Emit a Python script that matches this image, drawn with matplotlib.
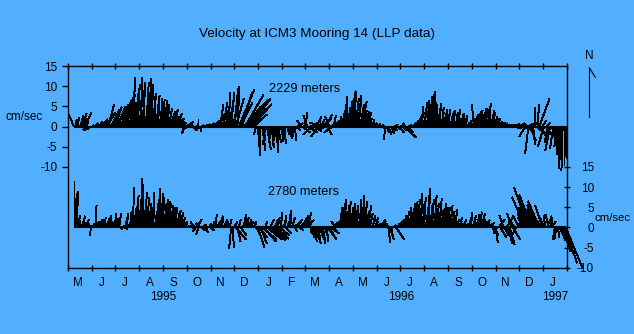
import numpy as np
import matplotlib
matplotlib.use("Agg")
import matplotlib.pyplot as plt
from matplotlib.collections import LineCollection
from matplotlib.lines import Line2D

plt.rcParams['font.family'] = ['Liberation Sans', 'DejaVu Sans']

# ---- record layout -------------------------------------------------------
record_start = np.datetime64('1995-05-01')
record_end = np.datetime64('1997-02-01')
sample_days = np.arange(8, 641, 2)          # days since 1 May 1995

month_letters = ['M', 'J', 'J', 'A', 'S', 'O', 'N', 'D', 'J', 'F', 'M',
                 'A', 'M', 'J', 'J', 'A', 'S', 'O', 'N', 'D', 'J']
year_labels = ['1995', '1996', '1997']
speed_ticks = [15, 10, 5, 0, -5, -10]
depth_labels = ['2229 meters', '2780 meters']

# ---- 2229 m current components (cm/s) ------------------------------------
north_2229 = [
    3.0, 1.8, 2.2, 1.5, 2.6, 3.2, 2.0, 3.4, 1.2, -0.8,
    -1.0, -0.6, 0.4, 0.3, 0.8, 0.5, 1.2, 1.0, 1.8, 1.5,
    2.5, 3.5, 5.5, 3.0, 4.2, 2.8, 4.8, 3.6, 5.0, 4.0,
    5.5, 4.8, 6.5, 5.8, 7.2, 6.0, 8.0, 7.0, 12.2, 8.5,
    9.5, 10.5, 8.8, 12.2, 9.0, 10.8, 8.5, 11.0, 9.2, 11.8,
    10.5, 7.5, 8.2, 6.5, 7.8, 6.2, 7.0, 6.8, 5.8, 6.5,
    5.5, 4.5, 3.8, 4.2, 3.0, 2.5, 3.2, 1.8, 2.0, 1.2,
    1.0, -1.7, 0.6, -0.8, 1.2, 0.4, -1.0, 0.8, -0.5, 0.6,
    1.8, -1.2, 0.3, 0.2, 0.4, 0.3, 0.6, 0.5, 0.8, 0.6,
    1.0, 1.5, 2.2, 3.0, 5.5, 4.0, 6.0, 3.5, 5.0, 8.3,
    6.5, 8.5, 5.5, 9.5, 7.0, 9.8, 9.2, 6.0, 8.5, 6.7,
    7.8, 5.0, 6.8, 4.5, 5.5, 3.0, 2.5, -2.0, -4.5, -7.3,
    -5.0, -6.0, -3.5, -4.5, -5.8, -3.0, -4.0, -5.2, -2.8, -4.8,
    -6.5, -4.0, -5.5, -3.2, -4.2, -2.5, -3.8, -2.0, -3.0, -1.5,
    -2.5, -1.8, -3.5, -1.0, 0.8, -0.8, 1.5, -1.5, 2.0, 3.5,
    2.8, -1.5, 1.2, -2.0, 0.6, -1.2, 2.5, -2.5, 1.0, 1.8,
    2.0, -1.0, 3.0, -2.0, 2.5, 1.5, -1.5, 2.8, 1.0, 0.8,
    1.2, 2.5, 3.5, 4.0, 5.5, 7.5, 4.8, 6.5, 5.0, 8.5,
    8.8, 7.0, 6.0, 7.8, 5.5, 6.2, 4.0, 3.8, 3.0, 3.5,
    2.0, 1.2, 1.8, 0.8, 0.5, 0.3, 0.6, 0.2, 0.4, -0.5,
    -3.2, -1.5, -2.0, -0.8, -1.8, -1.0, 0.5, -1.2, -0.6, -1.5,
    0.5, -1.0, -2.7, 0.8, -1.5, 0.4, -0.8, 0.6, 0.3, 1.0,
    1.5, 2.5, 3.5, 5.0, 3.0, 6.0, 4.2, 6.5, 5.0, 7.5,
    8.0, 8.7, 6.0, 5.5, 4.5, 5.8, 3.5, 4.8, 3.2, 4.3,
    3.0, 4.2, 2.5, 3.8, 4.0, 2.2, 3.5, 4.2, 2.0, 3.0,
    3.2, 2.0, 2.8, 1.0, 1.5, 0.8, 2.0, 5.5, 3.0, 3.8,
    4.0, 3.0, 4.5, 3.5, 4.2, 3.2, 5.0, 5.8, 4.0, 3.5,
    2.5, 2.0, 1.5, 1.2, 0.8, 1.0, 0.6, 0.8, 0.5, 0.4,
    0.5, 0.3, -0.4, 0.6, 0.4, -0.5, 0.8, -0.3, 0.5, -0.8,
    -2.5, 0.8, -6.7, -3.5, 1.0, -4.5, 4.8, -2.0, 5.5, 6.8,
    -3.0, 1.5, -5.0, -2.5, 1.0, -4.0, -6.0, -3.0, -5.5, -2.0,
    -5.0, -7.0, -9.5, -10.5, -11.0, -9.5, -8.0,
]
east_2229 = [
    -1.3, 0.3, 0.5, -0.2, 0.8, 1.2, 0.6, 1.6, 0.4, -1.2,
    -1.5, -0.8, 0.3, 0.5, 0.6, 0.4, 0.9, 1.2, 1.4, 1.6,
    1.8, 2.2, 1.5, 2.5, 2.0, 2.8, 1.8, 2.4, 2.0, 2.6,
    2.0, 2.5, 1.8, 2.2, 1.5, 2.0, 1.2, 1.8, 0.5, 1.0,
    0.8, 0.5, 1.0, 0.3, 0.6, 0.2, 0.8, 0.4, 0.5, 0.3,
    0.3, 0.5, 0.2, 0.6, 0.4, 0.8, 0.3, 0.5, 0.7, 0.4,
    0.5, 0.8, 1.2, 1.5, 0.9, 1.0, 1.3, 0.8, 1.0, 0.6,
    0.8, -0.6, 1.0, -1.2, 1.0, -0.5, 1.2, -0.8, 0.6, 0.4,
    0.0, 0.3, 0.5, 0.3, 0.8, 0.6, 0.5, 1.0, 0.7, 1.2,
    0.8, 1.0, 1.2, 1.5, 0.8, 1.6, 1.0, 1.2, 0.8, 0.6,
    1.0, 0.8, 1.5, 1.0, 2.0, 0.5, 3.8, 3.0, 2.5, 6.2,
    4.5, 3.5, 5.5, 4.0, 5.0, 3.5, 2.5, -0.5, 0.5, 0.3,
    -0.5, 0.8, 0.3, -0.6, 1.0, 0.5, -0.3, 0.6, 0.9, -0.4,
    0.5, 0.8, -0.4, 0.6, 1.0, 0.3, -0.6, 0.5, 0.8, 0.4,
    0.4, -0.5, 0.3, 1.0, 1.2, -1.5, -1.0, 1.8, 0.5, 0.3,
    -1.0, 2.0, 2.5, -2.2, 2.0, 1.5, 1.2, -1.8, -2.5, 0.8,
    2.0, -1.5, 1.5, 1.0, -1.0, 2.5, -2.0, 0.5, 1.0, 0.5,
    0.5, 0.3, 0.8, 0.5, 0.4, 0.3, 0.6, 0.8, 0.5, 0.6,
    0.5, 0.8, 1.0, 0.6, 0.9, 1.2, 0.8, 1.0, 0.6, 0.8,
    0.5, 0.8, 0.3, 0.6, 0.4, 0.5, 0.3, 0.6, 0.4, 0.3,
    -0.3, 0.5, 0.8, -0.5, 0.6, 1.0, 0.8, -0.6, 0.5, 1.2,
    0.8, 1.0, 3.0, -0.6, 1.5, 0.8, -0.8, 1.0, 0.5, 0.3,
    0.5, 0.8, 1.2, 0.6, 1.0, 0.8, 1.2, 0.5, 0.8, 0.4,
    0.5, 0.4, 0.3, 0.2, 0.5, 0.3, 0.6, 0.2, 0.4, 0.3,
    0.3, 0.2, 0.5, 0.4, 0.3, 0.6, 0.2, 0.4, 0.3, 0.5,
    0.3, 0.5, 0.2, 0.4, 0.6, 0.3, 0.8, -0.5, 0.6, 1.0,
    1.0, 0.8, 1.2, 0.6, 0.8, 1.0, 0.5, 0.3, 0.8, 0.6,
    0.8, 1.0, 0.6, 0.8, 1.2, 0.5, 0.8, 0.6, 1.0, 0.8,
    1.5, 2.0, 1.8, 1.2, 2.5, 1.0, 1.5, 2.2, 1.0, 1.8,
    -1.5, 2.0, -0.8, 1.5, 1.5, 0.5, 0.2, 2.5, 0.3, 2.5,
    1.5, 1.0, -1.5, 2.0, 0.8, -1.0, -1.2, 1.5, -0.8, -0.5,
    -0.5, -0.3, -0.2, -0.5, -0.3, 0.0, 0.2,
]

# ---- 2780 m current components (cm/s) ------------------------------------
north_2780 = [
    11.4, 8.5, 9.0, 3.0, 2.0, 1.5, 2.8, 1.2, 2.0, 1.0,
    0.5, -2.0, 1.0, 1.2, 5.5, 1.5, 2.0, 0.8, 1.8, 2.5,
    1.0, 2.5, 1.5, 3.0, 1.2, 2.2, 3.3, 2.0, 1.0, 3.5,
    -0.5, 0.4, -0.4, 2.5, 3.5, 2.0, 4.0, 3.0, 10.0, 5.0,
    6.5, 8.0, 7.0, 12.0, 10.6, 6.5, 8.7, 7.5, 4.0, 6.0,
    5.0, 8.7, 3.5, 6.0, 7.0, 9.6, 8.5, 7.5, 6.0, 7.0,
    6.5, 6.0, 5.5, 5.0, 4.5, 5.0, 3.8, 4.2, 3.0, 3.7,
    2.5, 1.3, 1.5, 0.5, 0.3, 0.4, -0.5, 1.5, -1.0, 2.0,
    -1.7, 1.0, -0.8, 0.6, -1.2, 0.5, -0.6, 1.0, -0.8, 1.5,
    2.0, 3.3, 1.5, 2.5, 0.8, 2.8, 1.2, 2.0, 1.5, 0.5,
    2.0, -5.3, -5.0, 1.5, -3.0, -3.5, 2.0, -2.0, 1.0, 2.5,
    3.3, 2.5, 1.8, 1.2, 1.5, 0.8, 1.5, -1.5, -5.0, -2.5,
    -4.0, -3.0, -3.5, 1.5, -3.0, -2.8, 2.0, -3.2, -2.5, 1.8,
    -2.8, 2.5, -2.0, 3.7, 1.5, 2.8, -1.5, 2.0, 3.5, 4.2,
    2.5, 1.5, -1.0, 2.0, 1.2, -0.8, 2.8, 1.5, 3.0, 1.8,
    3.7, 1.0, -1.5, -2.5, -3.5, -2.0, -3.0, -4.0, -2.5, -3.2,
    -4.0, -2.5, -3.5, -2.0, -3.0, -1.5, 2.0, -1.0, 1.5, 2.5,
    1.5, 3.5, 5.0, 6.0, 7.0, 4.0, 5.5, 6.3, 4.5, 5.0,
    6.0, 4.5, 5.5, 4.8, 7.0, 5.0, 8.0, 6.5, 4.0, 5.5,
    3.5, 2.0, 3.0, 1.5, 2.5, 1.0, 0.8, 2.0, 1.2, 1.5,
    1.0, 0.5, -3.7, -3.0, -2.0, 0.5, 0.3, -3.0, 1.0, 1.5,
    2.0, 1.5, 3.0, 2.5, 4.0, 3.5, 5.0, 4.0, 5.8, 5.5,
    6.5, 7.0, 5.5, 8.3, 6.0, 7.5, 5.0, 8.0, 9.6, 6.0,
    7.0, 5.5, 8.0, 6.0, 5.0, 7.2, 4.5, 5.5, 6.0, 4.8,
    5.0, 4.2, 5.5, 4.0, 3.5, 4.5, 2.0, 1.5, 2.5, 1.0,
    1.5, 2.0, 1.0, 1.8, 2.5, 3.7, 2.0, 3.0, 2.5, 3.2,
    2.5, 3.8, 3.5, 2.0, 1.5, 1.0, 1.8, 0.8, 1.2, -1.0,
    -2.0, -3.7, -1.5, 2.0, -2.5, -1.0, 3.0, -2.0, 2.5, -4.0,
    -4.2, 3.5, -3.0, 2.5, -2.0, 2.0, 3.0, 1.5, 2.5, 3.5,
    7.5, 5.0, 9.8, 6.0, 8.0, 4.5, 7.0, 5.5, 3.5, 6.5,
    4.0, 5.5, 2.5, 3.0, 2.0, 3.2, 2.5, 1.5, 2.8, -3.0,
    -3.0, -2.5, -1.5, -3.2, -6.0, -8.8, -10.2,
]
east_2780 = [
    0.0, 0.3, 0.2, 0.3, -0.2, 0.5, 0.4, 0.2, 0.6, 0.3,
    0.3, -0.3, 0.5, 0.8, 0.2, 0.6, 1.0, 0.5, 0.8, 0.6,
    0.5, 0.8, 1.0, 0.4, 0.6, 1.2, 0.5, 0.8, 0.3, 0.5,
    0.5, 0.8, 1.0, 0.5, 0.3, 0.8, 0.4, 0.6, 0.2, 0.5,
    0.4, 0.2, 0.5, 0.3, 0.2, 0.6, 0.3, 0.5, 0.4, 0.3,
    0.3, 0.2, 0.5, 0.4, 0.3, 0.2, 0.5, 0.4, 0.6, 0.5,
    0.6, 0.5, 0.7, 0.8, 0.6, 0.5, 0.8, 0.6, 0.5, 0.4,
    0.5, 0.6, 0.3, 0.5, 0.4, 0.8, 0.8, -0.8, -0.6, 1.2,
    -0.5, -1.0, 1.0, 0.8, 0.8, -0.6, -1.0, 0.5, 0.8, 0.5,
    0.5, 0.3, 0.8, 1.0, 0.5, 0.4, 0.8, 0.6, 0.5, 0.3,
    0.5, -0.5, 0.3, 0.8, 2.5, 0.8, 0.5, 1.5, 0.8, 0.5,
    0.3, 0.5, 0.8, 0.6, 0.4, 0.8, 0.3, 1.0, 1.7, 2.0,
    1.5, 3.5, 3.0, 0.5, 3.7, 4.0, 1.0, 3.5, 3.0, 0.8,
    3.0, 0.5, 2.5, 0.3, 1.0, 0.6, 1.5, 0.8, 0.5, 0.3,
    0.8, 2.0, 0.5, 1.5, 2.5, 1.0, 1.8, 2.2, 1.5, 2.0,
    1.0, 0.5, 0.3, 0.5, 0.8, 0.3, 0.5, 0.6, 0.8, 1.0,
    0.5, 1.0, 0.6, 1.5, 1.8, 2.0, 2.5, 0.8, -1.0, 1.5,
    0.5, 0.3, 0.2, 0.4, 0.3, 0.2, 0.4, 0.3, 0.5, 0.2,
    0.3, 0.5, 0.2, 0.6, 0.3, 0.4, 0.2, 0.5, 0.6, 0.8,
    0.8, 1.2, 0.6, 1.0, 0.5, 0.8, 0.6, 1.2, 0.8, 0.5,
    0.5, 0.3, 0.5, 1.0, 0.3, 0.8, 0.6, 2.0, 0.5, 0.8,
    0.8, 0.5, 0.6, 0.3, 0.5, 0.8, 0.3, 0.5, 0.4, 0.2,
    0.3, 0.5, 0.6, 0.3, 0.5, 0.4, 0.8, 0.5, 0.3, 0.6,
    0.5, 0.8, 0.4, 0.6, 0.8, 0.5, 0.6, 0.8, 0.5, 0.6,
    0.6, 0.8, 0.5, 0.6, 0.8, 0.5, 0.6, 0.8, 0.5, 0.4,
    0.6, 0.3, 0.5, 0.8, 0.6, 0.4, 0.8, 0.5, 1.0, 0.6,
    0.6, 0.4, 0.8, 0.5, 0.6, 0.8, 0.4, 0.6, 0.8, 0.5,
    1.0, 0.5, -0.8, 1.5, 1.5, 2.0, -1.0, 0.8, 1.5, 1.0,
    1.2, -1.0, 1.8, -1.5, -1.0, 1.0, -1.5, 0.5, -1.0, -1.5,
    -3.3, -2.0, -3.5, -2.5, -3.0, -1.5, -3.8, -2.2, -1.0, -2.8,
    -2.5, -1.8, -1.0, -0.5, 0.8, -0.8, 0.5, 1.0, -0.6, -0.5,
    -0.5, 0.3, 0.8, 1.0, 2.0, 3.2, 4.2,
]

# ---- figure ----------------------------------------------------------------
background = '#52AFFF'
W, H = 634, 334
fig = plt.figure(figsize=(W / 100, H / 100), dpi=100, facecolor=background)
ax = fig.add_axes([67.7 / W, 66.3 / H, 499.6 / W, 201.7 / H])
ax.set_facecolor(background)

total_days = int((record_end - record_start) / np.timedelta64(1, 'D'))
panel_gap = 25          # vertical offset (cm/s) of the upper record
ax.set_xlim(0, total_days)
ax.set_ylim(-10, 40)

# days per cm/s so that each stick keeps its true compass direction
bbox = ax.get_window_extent()
px_per_day = bbox.width / total_days
px_per_unit = bbox.height / 50.0
day_per_unit = px_per_unit / px_per_day

t = np.asarray(sample_days, dtype=float)
for east, north, base in ((east_2229, north_2229, panel_gap),
                          (east_2780, north_2780, 0.0)):
    e = np.asarray(east)
    n = np.asarray(north)
    segs = np.stack([np.column_stack([t, np.full_like(t, base)]),
                     np.column_stack([t + e * day_per_unit, base + n])], axis=1)
    lc = LineCollection(segs, colors='black', linewidths=0.7,
                        antialiaseds=False, clip_on=False)
    ax.add_collection(lc)
    ax.plot([t[0], t[-1]], [base, base], color='black', lw=1.5,
            solid_capstyle='butt', clip_on=False)

for side in ax.spines.values():
    side.set_linewidth(1.0)
    side.set_color('black')

# month ticks on both edges, letters set in each month
months = np.arange('1995-05', '1997-03', dtype='datetime64[M]')
month_edges = ((months.astype('datetime64[D]') - record_start)
               / np.timedelta64(1, 'D')).astype(float)
month_mid = (month_edges[:-1] + month_edges[1:]) / 2 - 2.5
ax.set_xticks(month_edges)
ax.set_xticklabels([])
ax.set_xticks(month_mid, minor=True)
ax.set_xticklabels(month_letters, minor=True)
ax.tick_params(axis='x', which='major', top=True, bottom=True,
               direction='inout', length=5, width=1.0)
ax.tick_params(axis='x', which='minor', length=0, pad=7, labelsize=8.5)

# left scale: upper record
ax.set_yticks([v + panel_gap for v in speed_ticks])
ax.set_yticklabels([str(v) for v in speed_ticks])
ax.tick_params(axis='y', direction='out', length=4.3, width=1.0,
               pad=3.2, labelsize=8.5)

# right scale: lower record
ax2 = ax.twinx()
ax2.set_ylim(-10, 40)
ax2.set_yticks(speed_ticks)
ax2.set_yticklabels([str(v) for v in speed_ticks])
ax2.tick_params(axis='y', direction='inout', length=4.3, width=1.0,
                pad=17, labelsize=8.5)
for lab in ax2.get_yticklabels():
    lab.set_horizontalalignment('right')
ax2.patch.set_visible(False)
for side in ax2.spines.values():
    side.set_visible(False)

# year labels centred on each year's part of the record
for yr in year_labels:
    y0 = (np.datetime64(f'{yr}-01-01') - record_start) / np.timedelta64(1, 'D')
    y1 = (np.datetime64(f'{int(yr) + 1}-01-01') - record_start) / np.timedelta64(1, 'D')
    xm = (max(0, y0) + min(total_days, y1)) / 2
    ax.text(xm, -0.145, yr, transform=ax.get_xaxis_transform(),
            ha='center', va='center', fontsize=8.5)

ax.text(305, panel_gap + 9.4, depth_labels[0], ha='center', va='center',
        fontsize=9.2)
ax.text(303, 8.8, depth_labels[1], ha='center', va='center', fontsize=9.2)

fig.text(317 / W, 1 - 33.5 / H, 'Velocity at ICM3 Mooring 14 (LLP data)',
         ha='center', va='center', fontsize=9.7)
fig.text(24 / W, 1 - 117 / H, 'cm/sec', ha='center', va='center', fontsize=8.5)
fig.text(612.5 / W, 1 - 218 / H, 'cm/sec', ha='center', va='center', fontsize=8.2)

# north arrow
fig.text(589.5 / W, 1 - 56 / H, 'N', ha='center', va='center', fontsize=8.5)
fig.add_artist(Line2D([589.3 / W, 589.3 / W], [1 - 67.7 / H, 1 - 117.3 / H],
                      color='black', lw=0.8, transform=fig.transFigure))
fig.add_artist(Line2D([589.3 / W, 595.3 / W], [1 - 67.7 / H, 1 - 77.3 / H],
                      color='black', lw=0.8, transform=fig.transFigure))

fig.savefig('out.png', dpi=100, facecolor=background)
